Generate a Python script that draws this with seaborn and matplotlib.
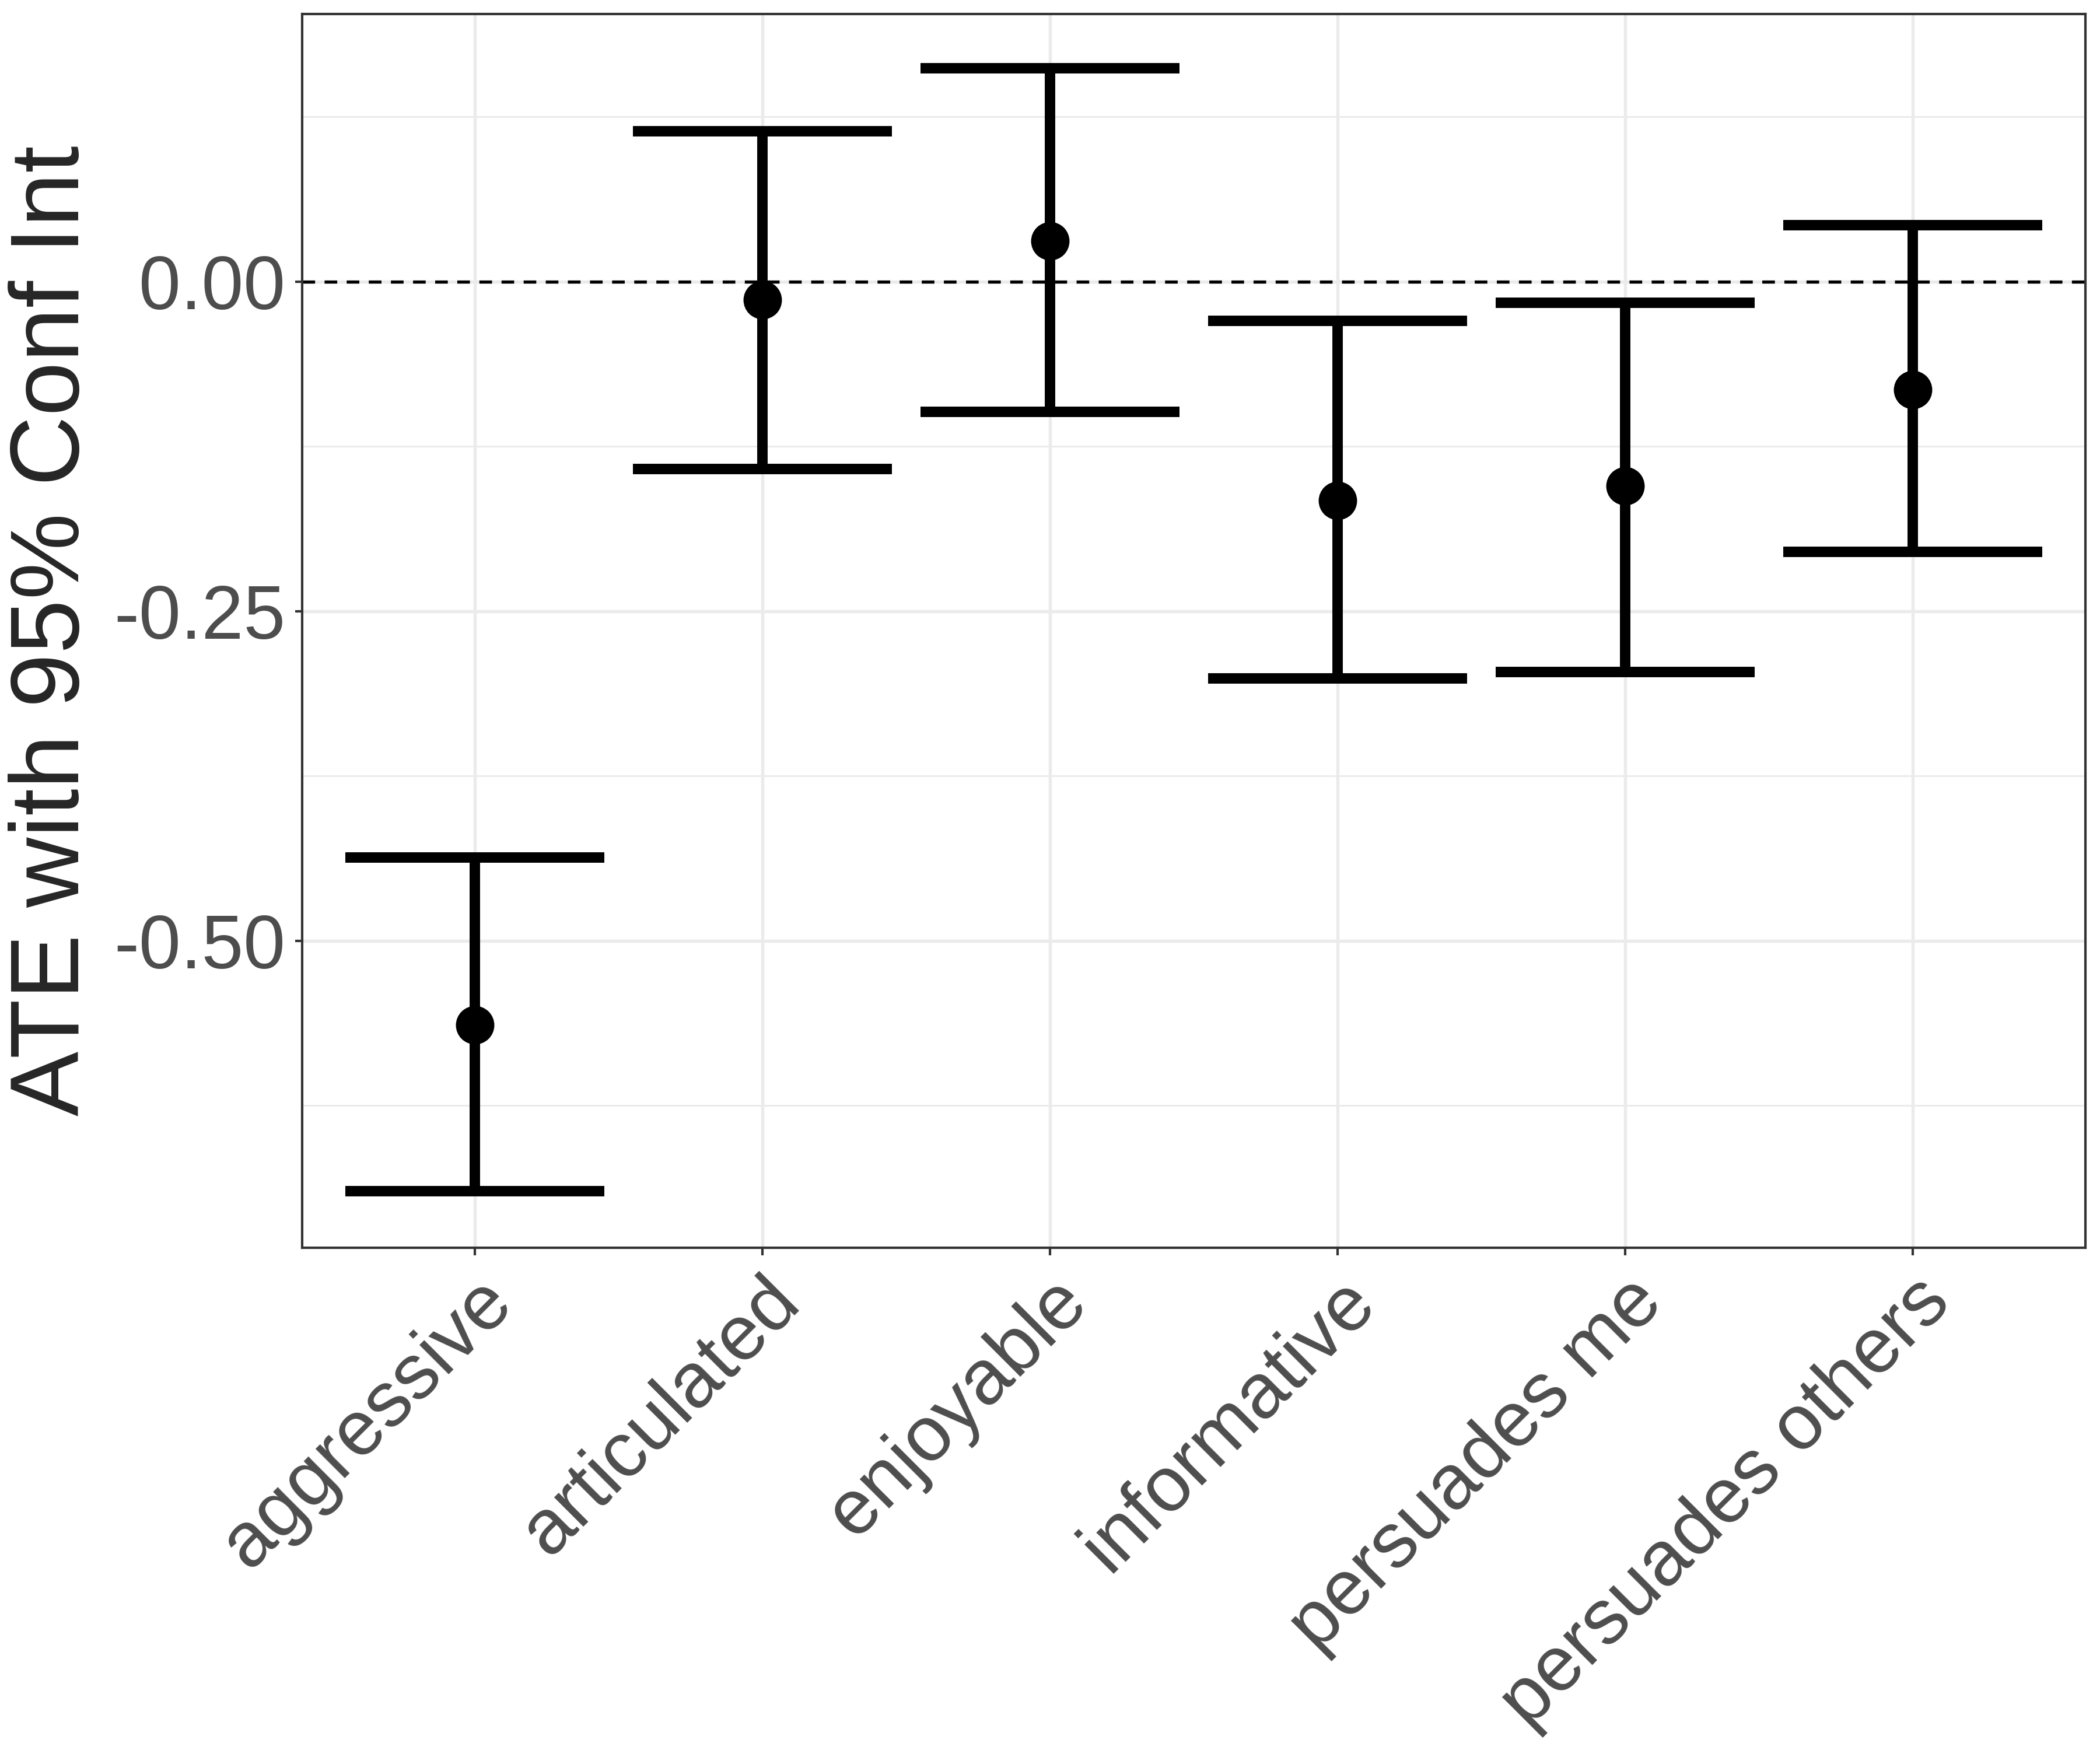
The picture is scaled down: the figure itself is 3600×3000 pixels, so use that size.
import numpy as np
import pandas as pd
import seaborn as sns
import matplotlib.pyplot as plt
from matplotlib.ticker import MultipleLocator

categories = ["aggressive", "articulated", "enjoyable", "informative",
              "persuades me", "persuades others"]
ate = [-0.564, -0.014, 0.031, -0.166, -0.155, -0.082]
ci_low = [-0.690, -0.142, -0.099, -0.301, -0.296, -0.205]
ci_high = [-0.437, 0.114, 0.162, -0.030, -0.016, 0.043]

df = pd.DataFrame({"outcome": categories, "ate": ate,
                   "lo": ci_low, "hi": ci_high})
df["pos"] = np.arange(len(df))

sns.set_theme(style="whitegrid")
plt.rcParams['font.family'] = ['Liberation Sans', 'DejaVu Sans']

fig = plt.figure(figsize=(12, 10), dpi=300)
ax = fig.add_axes([0.144, 0.287, 0.849, 0.705])

ax.axhline(0, color="black", lw=1.3, ls=(0, (4, 3)), zorder=1)

# error bars with wide caps (ggplot geom_errorbar width 0.9)
lw = 4.3
ax.vlines(df["pos"], df["lo"], df["hi"], color="black", lw=lw, zorder=3)
ax.hlines(df["lo"], df["pos"] - 0.45, df["pos"] + 0.45, color="black", lw=lw, zorder=3)
ax.hlines(df["hi"], df["pos"] - 0.45, df["pos"] + 0.45, color="black", lw=lw, zorder=3)
sns.scatterplot(data=df, x="pos", y="ate", ax=ax, color="black", s=250,
                edgecolor="black", linewidth=0, zorder=4, legend=False)

ax.set_xlim(-0.6, len(df) - 0.4)
ax.set_ylim(-0.733, 0.203)
ax.set_xticks(df["pos"])
ax.set_xticklabels(df["outcome"], rotation=45, ha="right",
                   rotation_mode="anchor", fontsize=32, color="#4D4D4D")
ax.yaxis.set_minor_locator(MultipleLocator(0.125))
ax.set_yticks([0.0, -0.25, -0.5])
ax.set_yticklabels(["0.00", "-0.25", "-0.50"], fontsize=31, color="#4D4D4D")

ax.grid(which="major", color="#EBEBEB", lw=1.3)
ax.grid(which="minor", axis="y", color="#EBEBEB", lw=0.7)
ax.set_axisbelow(True)
for s in ax.spines.values():
    s.set_color("#333333")
    s.set_linewidth(1.0)
ax.tick_params(axis="both", which="major", length=3, width=1.0, color="#333333",
               pad=4, bottom=True, left=True)
ax.tick_params(axis="y", which="minor", length=0)

ax.set_xlabel("")
ax.set_ylabel("ATE with 95% Conf Int", fontsize=40, labelpad=6)

fig.savefig("out.png", dpi=300)
